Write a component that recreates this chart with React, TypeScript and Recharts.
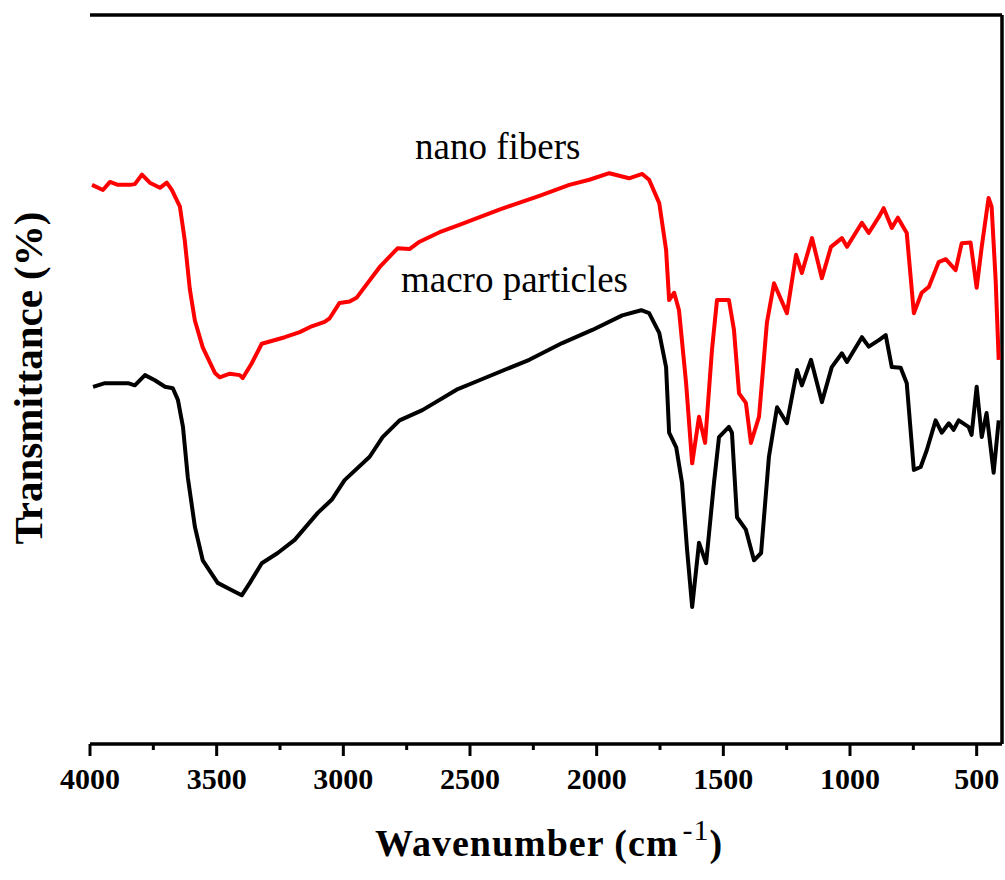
import React from 'react';
import { LineChart, Line, XAxis, YAxis, ReferenceLine } from 'recharts';

// wavenumber (cm-1) / transmittance readings, nano fibers (red trace)
const nanoWave = [
  3992, 3949, 3921, 3890, 3842, 3823, 3795, 3764, 3724, 3697, 3677, 3645, 3626, 3606, 3586, 3555,
  3507, 3488, 3448, 3409, 3397, 3362, 3322, 3231, 3172, 3125, 3074, 3054, 3015, 2975, 2948, 2857,
  2786, 2739, 2699, 2620, 2542, 2384, 2226, 2108, 2029, 1950, 1872, 1820, 1793, 1753, 1726, 1714,
  1694, 1675, 1647, 1623, 1596, 1572, 1545, 1525, 1505, 1478, 1458, 1438, 1411, 1391, 1359, 1328,
  1300, 1249, 1213, 1190, 1150, 1111, 1075, 1032, 1012, 953, 926, 886, 867, 835, 811, 776, 748,
  717, 689, 650, 622, 583, 559, 524, 500, 480, 453, 441, 425, 413,
];
const nanoT = [
  76.7, 76.0, 77.1, 76.7, 76.7, 76.8, 78.1, 77.0, 76.3, 77.0, 76.0, 73.7, 69.1, 62.4, 58.1, 54.4,
  50.9, 50.3, 50.8, 50.6, 50.2, 52.2, 54.9, 55.8, 56.5, 57.3, 57.9, 58.4, 60.5, 60.7, 61.2, 65.4,
  68.0, 67.9, 68.9, 70.2, 71.2, 73.3, 75.2, 76.7, 77.4, 78.3, 77.6, 78.2, 77.4, 74.2, 67.8, 60.9,
  61.9, 59.5, 49.5, 38.5, 44.9, 41.3, 54.0, 60.9, 60.9, 60.9, 56.8, 48.1, 46.8, 41.3, 44.9, 57.8,
  63.2, 59.1, 67.1, 64.6, 69.4, 63.9, 68.2, 69.4, 68.2, 71.5, 70.1, 72.3, 73.5, 70.8, 72.2, 70.1, 59.1,
  61.9, 62.7, 66.1, 66.5, 65.0, 68.7, 68.8, 62.6, 68.2, 74.9, 73.7, 63.6, 52.7,
];

// macro particles (black trace)
const macroWave = [
  3988, 3941, 3890, 3850, 3823, 3783, 3744, 3704, 3673, 3653, 3633, 3614, 3586, 3555, 3496, 3440,
  3401, 3369, 3322, 3259, 3192, 3101, 3046, 2995, 2896, 2845, 2778, 2688, 2553, 2463, 2266, 2136,
  2017, 1899, 1824, 1793, 1753, 1726, 1714, 1686, 1663, 1643, 1623, 1596, 1568, 1537, 1517, 1478,
  1466, 1446, 1411, 1379, 1351, 1320, 1288, 1249, 1209, 1190, 1154, 1111, 1072, 1032, 1012, 953,
  926, 886, 859, 835, 800, 776, 748, 721, 697, 662, 638, 610, 591, 571, 532, 520, 500, 480, 461,
  433, 413,
];
const macroT = [
  49.0, 49.5, 49.5, 49.5, 49.2, 50.6, 49.9, 49.0, 48.8, 47.2, 43.5, 36.6, 29.8, 25.2, 22.1, 21.1,
  20.4, 22.1, 24.8, 26.2, 28.0, 31.7, 33.5, 36.2, 39.4, 42.1, 44.4, 45.8, 48.6, 49.9, 52.7, 55.0,
  56.8, 58.8, 59.5, 59.1, 56.4, 51.7, 42.7, 40.7, 35.8, 26.6, 18.8, 27.6, 24.8, 35.8, 42.1, 43.5,
  42.7, 31.1, 29.4, 25.2, 26.2, 39.4, 46.2, 44.0, 51.3, 49.2, 52.7, 46.9, 51.7, 53.6, 52.4, 55.8,
  54.5, 55.4, 56.1, 51.7, 51.6, 49.5, 37.6, 38.0, 40.3, 44.4, 42.7, 44.0, 43.1, 44.4, 43.5, 42.4,
  49.0, 42.1, 45.4, 37.2, 44.4,
];

const majorTicks = [4000, 3500, 3000, 2500, 2000, 1500, 1000, 500];
const allTicks = [4000, 3750, 3500, 3250, 3000, 2750, 2500, 2250, 2000, 1750, 1500, 1250, 1000, 750, 500];

const nanoData = nanoWave.map((w, i) => ({ w, t: nanoT[i] }));
const macroData = macroWave.map((w, i) => ({ w, t: macroT[i] }));

const FONT = '"Liberation Serif", "Times New Roman", serif';
const frame = { stroke: '#000', strokeWidth: 3.5 };

function WaveTick(props: any) {
  const { x, y, payload } = props;
  const major = majorTicks.includes(payload.value);
  return (
    <g>
      <line x1={x} y1={y} x2={x} y2={y + (major ? 12 : 6)} stroke="#000" strokeWidth={3} />
      {major && (
        <text x={x} y={y + 45} textAnchor="middle" fontFamily={FONT} fontWeight="bold" fontSize={30} fill="#000">
          {payload.value}
        </text>
      )}
    </g>
  );
}

export default function App() {
  return (
    <div style={{ position: 'absolute', left: 0, top: 0, width: 1005, height: 880, background: '#fff' }}>
      <LineChart width={1005} height={880} margin={{ top: 15, right: 3, left: 90, bottom: 76 }}>
        <XAxis
          dataKey="w"
          type="number"
          domain={[400, 4000]}
          reversed
          ticks={allTicks}
          interval={0}
          height={60}
          tickSize={0}
          tickMargin={0}
          tickLine={false}
          tick={<WaveTick />}
          axisLine={frame}
        />
        <YAxis type="number" domain={[0, 100]} width={0} tick={false} tickLine={false} axisLine={frame} />
        <ReferenceLine y={100} {...frame} />
        <ReferenceLine x={400} {...frame} />
        <Line
          data={macroData}
          dataKey="t"
          type="linear"
          stroke="#000000"
          strokeWidth={4}
          strokeLinejoin="round"
          dot={false}
          isAnimationActive={false}
        />
        <Line
          data={nanoData}
          dataKey="t"
          type="linear"
          stroke="#ff0000"
          strokeWidth={4}
          strokeLinejoin="round"
          dot={false}
          isAnimationActive={false}
        />
      </LineChart>
      <svg width={1005} height={880} style={{ position: 'absolute', left: 0, top: 0, pointerEvents: 'none' }}>
        <text x={415} y={159} fontFamily={FONT} fontSize={37} fill="#000">nano fibers</text>
        <text x={401} y={292} fontFamily={FONT} fontSize={37} fill="#000">macro particles</text>
        <text x={375} y={856} fontFamily={FONT} fontWeight="bold" fontSize={38} fill="#000" letterSpacing={1}>
          Wavenumber (cm
          <tspan dx={4} dy={-16} fontSize={30} fontWeight="normal">-1</tspan>
          <tspan dy={16}>)</tspan>
        </text>
        <text
          x={0}
          y={0}
          transform="translate(42, 378) rotate(-90)"
          textAnchor="middle"
          fontFamily={FONT}
          fontWeight="bold"
          fontSize={41}
          fill="#000"
        >
          Transmittance (%)
        </text>
      </svg>
    </div>
  );
}
